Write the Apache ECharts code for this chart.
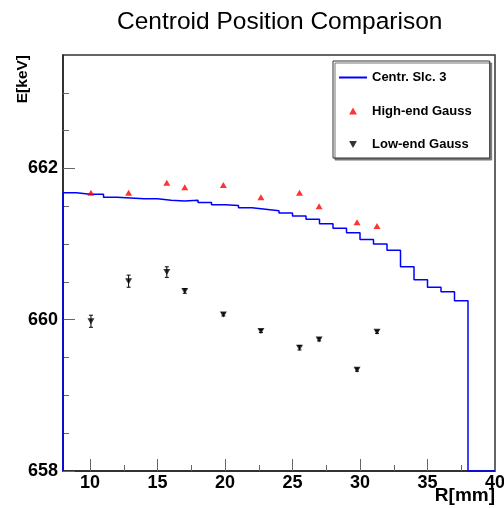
<!DOCTYPE html>
<html><head><meta charset="utf-8">
<script src="https://cdn.jsdelivr.net/npm/echarts@6/dist/echarts.min.js"></script>
<style>html,body{margin:0;padding:0;background:#fff}#c{width:504px;height:508px}</style>
</head><body><div id="c"></div>
<script>
// ---- data ----
const binEdges = [8,9,10,11,12,13,14,15,16,17,18,19,20,21,22,23,24,25,26,27,28,29,30,31,32,33,34,35,36,37,38,39,40];
const stepValues = [661.68,661.66,661.66,661.62,661.61,661.60,661.60,661.58,661.57,661.58,661.55,661.52,661.51,661.48,661.46,661.44,661.41,661.37,661.33,661.27,661.21,661.15,661.06,661.00,660.92,660.70,660.53,660.43,660.37,660.25,658,658];
const pointR = [10.07,12.86,15.69,17.02,19.88,22.66,25.52,26.97,29.78,31.26];
const highY = [661.68,661.68,661.81,661.75,661.78,661.62,661.68,661.50,661.29,661.24];
const lowY = [659.98,660.51,660.63,660.38,660.07,659.85,659.63,659.74,659.34,659.84];
const lowErr = [0.08,0.08,0.07,0.03,0.02,0.02,0.03,0.02,0.02,0.02];
const xMajorTicks = [10,15,20,25,30,35,40];
const xMinorTicks = [12.5,17.5,22.5,27.5,32.5,37.5];
const yMajorTicks = [658,660,662];
const yMinorTicks = [658.5,659,659.5,660.5,661,661.5,662.5,663];
const xRange = [8,40];
const yRange = [658,663.5];
const names = ['Centr. Slc. 3','High-end Gauss','Low-end Gauss'];

// ---- build ----
const stepPts = [[binEdges[0], yRange[0]]];
stepValues.forEach((v,i)=>{ stepPts.push([binEdges[i], v]); stepPts.push([binEdges[i+1], v]); });
stepPts.push([binEdges[binEdges.length-1], yRange[0]]);
const highData = pointR.map((r,i)=>[r, highY[i]]);
const lowData = pointR.map((r,i)=>[r, lowY[i]]);
const errData = pointR.map((r,i)=>[r, lowY[i], lowErr[i]]);

const FONT = 'Liberation Sans';
const upTri = 'path://M5,0L10,9L0,9Z';
const downTri = 'path://M0,0L10,0L5,9Z';
const lblStyle = {fontFamily:FONT, fontWeight:'bold', fontSize:18, color:'#000'};

const chart = echarts.init(document.getElementById('c'));
chart.setOption({
  animation:false,
  backgroundColor:'#fff',
  title:{text:'Centroid Position Comparison', left:112, top:5,
    textStyle:{fontFamily:FONT, fontWeight:'normal', fontSize:24.5, color:'#000'}},
  grid:{left:63, right:9, top:55, bottom:37, show:true, borderColor:'#333', borderWidth:1.5,
    backgroundColor:'#fff', containLabel:false, outerBoundsMode:'none'},
  legend:{
    data:[
      {name:names[0], itemStyle:{color:'rgba(0,0,0,0)', opacity:0, borderWidth:0}},
      {name:names[1]},
      {name:names[2]}
    ],
    orient:'vertical', left:333, top:61,
    padding:[10,18,7,5], itemWidth:28, itemHeight:7, itemGap:20.5,
    backgroundColor:'#fff', borderColor:'#333', borderWidth:1,
    shadowColor:'#777', shadowOffsetX:2, shadowOffsetY:2, shadowBlur:0,
    textStyle:{fontFamily:FONT, fontWeight:'bold', fontSize:13, color:'#000'},
    selectedMode:false
  },
  xAxis:[
    {type:'value', min:xRange[0], max:xRange[1], gridIndex:0,
     name:'R[mm]', nameLocation:'end', nameGap:0, nameMoveOverlap:false,
     nameTextStyle:{fontFamily:FONT, fontWeight:'bold', fontSize:19, color:'#000', align:'right', verticalAlign:'top', padding:[15,0,0,0]},
     axisLine:{show:true, lineStyle:{color:'#222', width:1.5}},
     axisTick:{show:true, inside:true, length:12, customValues:xMajorTicks, lineStyle:{color:'#666'}},
     axisLabel:{show:true, customValues:xMajorTicks, margin:3, hideOverlap:false, ...lblStyle},
     splitLine:{show:false}},
    {type:'value', min:xRange[0], max:xRange[1], gridIndex:0, position:'bottom',
     axisLine:{show:false},
     axisTick:{show:true, inside:true, length:6, customValues:xMinorTicks, lineStyle:{color:'#666'}},
     axisLabel:{show:false}, splitLine:{show:false}}
  ],
  yAxis:[
    {type:'value', min:yRange[0], max:yRange[1], gridIndex:0,
     name:'E[keV]', nameLocation:'end', nameGap:0, nameRotate:90, nameMoveOverlap:false,
     nameTextStyle:{fontFamily:FONT, fontWeight:'bold', fontSize:15.5, color:'#000', align:'right', verticalAlign:'bottom', padding:[0,0,32,0]},
     axisLine:{show:true, lineStyle:{color:'#222', width:1.5}},
     axisTick:{show:true, inside:true, length:12, customValues:yMajorTicks, lineStyle:{color:'#666'}},
     axisLabel:{show:true, customValues:yMajorTicks, margin:5, ...lblStyle},
     splitLine:{show:false}},
    {type:'value', min:yRange[0], max:yRange[1], gridIndex:0, position:'left',
     axisLine:{show:false},
     axisTick:{show:true, inside:true, length:6, customValues:yMinorTicks, lineStyle:{color:'#666'}},
     axisLabel:{show:false}, splitLine:{show:false}}
  ],
  series:[
    {name:names[0], type:'line', data:stepPts, symbol:'none', clip:true,
     lineStyle:{color:'#0000ff', width:1.5}, itemStyle:{color:'#0000ff'}, z:3},
    {name:'err', type:'custom', data:errData, z:4,
     renderItem:function(params, api){
       const x=api.value(0), y=api.value(1), e=api.value(2);
       const p1=api.coord([x,y+e]), p2=api.coord([x,y-e]);
       const st={stroke:'#000', lineWidth:1};
       return {type:'group', children:[
         {type:'line', shape:{x1:p1[0],y1:p1[1],x2:p2[0],y2:p2[1]}, style:st},
         {type:'line', shape:{x1:p1[0]-2,y1:p1[1],x2:p1[0]+2,y2:p1[1]}, style:st},
         {type:'line', shape:{x1:p2[0]-2,y1:p2[1],x2:p2[0]+2,y2:p2[1]}, style:st}
       ]};
     }},
    {name:names[1], type:'scatter', data:highData, symbol:upTri, symbolSize:[7,6],
     itemStyle:{color:'#ff0000'}, z:5},
    {name:names[2], type:'scatter', data:lowData, symbol:downTri, symbolSize:[7,6],
     itemStyle:{color:'#000'}, z:5}
  ]
});
</script></body></html>
